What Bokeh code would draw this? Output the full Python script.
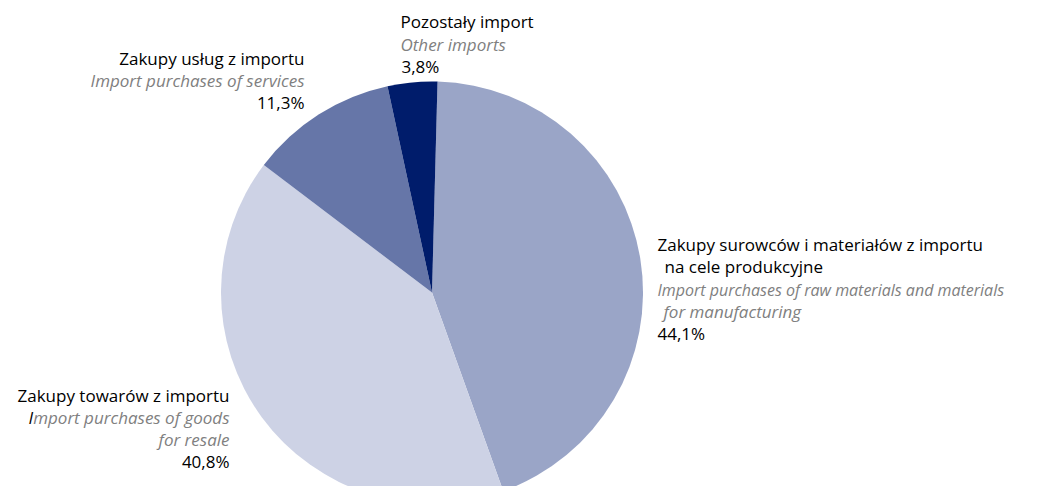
import math
from bokeh.plotting import figure
from bokeh.models import Range1d
from bokeh.core.properties import value
from bokeh.embed import file_html
from bokeh.resources import INLINE

# ---- data ----
categories_pl = ["Zakupy surowców i materiałów z importu", "Zakupy towarów z importu",
                 "Zakupy usług z importu", "Pozostały import"]
categories_en = ["Import purchases of raw materials and materials", "Import purchases of goods",
                 "Import purchases of services", "Other imports"]
shares = [44.1, 40.8, 11.3, 3.8]
colors = ["#9AA5C7", "#CDD2E5", "#6676A8", "#001C6B"]

W, H = 1024, 486
PAGE_H = 502

def Y(py):
    return PAGE_H - py

p = figure(width=W, height=H, output_backend="svg", toolbar_location=None,
           x_range=Range1d(0, W), y_range=Range1d(PAGE_H - H, PAGE_H),
           min_border=0)
p.axis.visible = False
p.grid.visible = False
p.outline_line_color = None
p.background_fill_color = "white"
p.border_fill_color = "white"

cx, cy, r = 431.5, Y(292), 211
offset = 1.5
total = sum(shares)
acc = offset
starts, ends = [], []
for s in shares:
    a0 = acc
    a1 = acc + s / total * 360.0
    starts.append(math.radians(90 - a0))
    ends.append(math.radians(90 - a1))
    acc = a1

p.wedge(x=[cx] * 4, y=[cy] * 4, radius=r, start_angle=starts, end_angle=ends,
        direction="clock", fill_color=colors, line_color=None)

FONT = value("Open Sans")
FS = "17px"
GREY = "#808080"

def pct(v):
    return f"{v:.1f}".replace(".", ",") + "%"

def txt(x, py, s, align="left", color="black", italic=False, fs=FS):
    p.text(x=[x], y=[Y(py)], text=[s], text_align=align, text_baseline="middle",
           text_font=FONT, text_font_size=fs, text_color=color,
           text_font_style="italic" if italic else "normal")

# Pozostały import
txt(400, 21, categories_pl[3])
txt(400, 44, categories_en[3], color=GREY, italic=True)
txt(401, 66, pct(shares[3]))

# Zakupy usług
txt(304, 58, categories_pl[2], align="right")
txt(304, 80, categories_en[2], align="right", color=GREY, italic=True)
txt(304, 102, pct(shares[2]), align="right")

# Surowce
txt(657, 244, categories_pl[0])
txt(664, 266, "na cele produkcyjne")
txt(657, 289, categories_en[0], color=GREY, italic=True, fs="16px")
txt(663, 311, "for manufacturing", color=GREY, italic=True)
txt(657, 333, pct(shares[0]))

# Towary
txt(229, 395, categories_pl[1], align="right")
en1 = categories_en[1]
txt(229, 417, en1[1:], align="right", color=GREY, italic=True)
txt(28, 417, en1[0], align="left", color="black", italic=True)
txt(229, 439, "for resale", align="right", color=GREY, italic=True)
txt(229, 461, pct(shares[1]), align="right")

open("out.html", "w").write(file_html(p, INLINE))
